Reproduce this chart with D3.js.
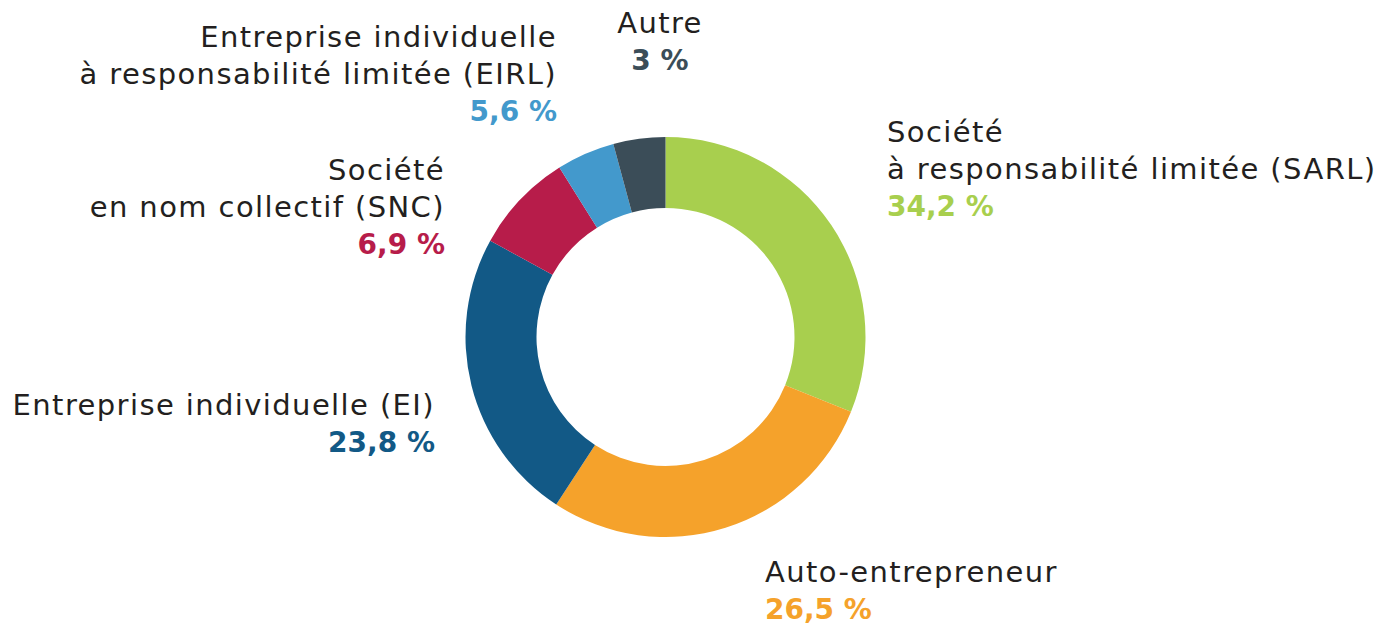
<!DOCTYPE html>
<html>
<head>
<meta charset="utf-8">
<script src="https://cdn.jsdelivr.net/npm/d3@7"></script>
<style>
  html, body { margin: 0; padding: 0; background: #fff; }
  svg { display: block; }
</style>
</head>
<body>
<svg id="chart"></svg>
<script>
// legal forms, clockwise from 12 o'clock
const categories = [
  ['Société', 'à responsabilité limitée (SARL)'],
  ['Auto-entrepreneur'],
  ['Entreprise individuelle (EI)'],
  ['Société', 'en nom collectif (SNC)'],
  ['Entreprise individuelle', 'à responsabilité limitée (EIRL)'],
  ['Autre']
]
// printed shares
const shares = [34.2, 26.5, 23.8, 6.9, 5.6, 3]
// slice sizes as actually drawn in the picture (they differ a bit from the printed shares)
const sliceSizes = [31.1, 28.1, 23.8, 8.1, 4.7, 4.2]
const colors = ['#a8cf4e', '#f5a22b', '#125986', '#b71c4a', '#4399cc', '#3b4d58']

const width = 1397
const height = 625
const cx = 665.5
const cy = 337
const outerR = 200
const innerR = 129
const lineH = 37

// where each label block sits: anchor x, first baseline, alignment
const labelLayout = [
  { x: 887, y: 142, anchor: 'start' },
  { x: 765, y: 582, anchor: 'start' },
  { x: 435, y: 415, anchor: 'end' },
  { x: 445, y: 180, anchor: 'end' },
  { x: 557, y: 47, anchor: 'end' },
  { x: 660, y: 33, anchor: 'middle' }
]

const fmt = (v) => String(v).replace('.', ',') + ' %'

const svg = d3.select('#chart')
  .attr('width', width)
  .attr('height', height)
  .attr('viewBox', `0,0,${width},${height}`)

const pie = d3.pie().sort(null).value((d) => d)
const arc = d3.arc().innerRadius(innerR).outerRadius(outerR)

svg.append('g')
  .attr('transform', `translate(${cx},${cy})`)
  .selectAll('path')
  .data(pie(sliceSizes))
  .join('path')
  .attr('d', arc)
  .attr('fill', (_, i) => colors[i])

const labelG = svg.append('g')
  .attr('font-family', '"DejaVu Sans", sans-serif')

categories.forEach((lines, i) => {
  const { x, y, anchor } = labelLayout[i]
  lines.forEach((line, j) => {
    labelG.append('text')
      .attr('x', x)
      .attr('y', y + j * lineH)
      .attr('text-anchor', anchor)
      .attr('font-size', 29)
      .attr('letter-spacing', 1.4)
      .attr('fill', '#231f20')
      .text(line)
  })
  labelG.append('text')
    .attr('x', x)
    .attr('y', y + lines.length * lineH)
    .attr('text-anchor', anchor)
    .attr('font-size', 28)
    .attr('font-weight', 700)
    .attr('fill', colors[i])
    .text(fmt(shares[i]))
})
</script>
</body>
</html>
